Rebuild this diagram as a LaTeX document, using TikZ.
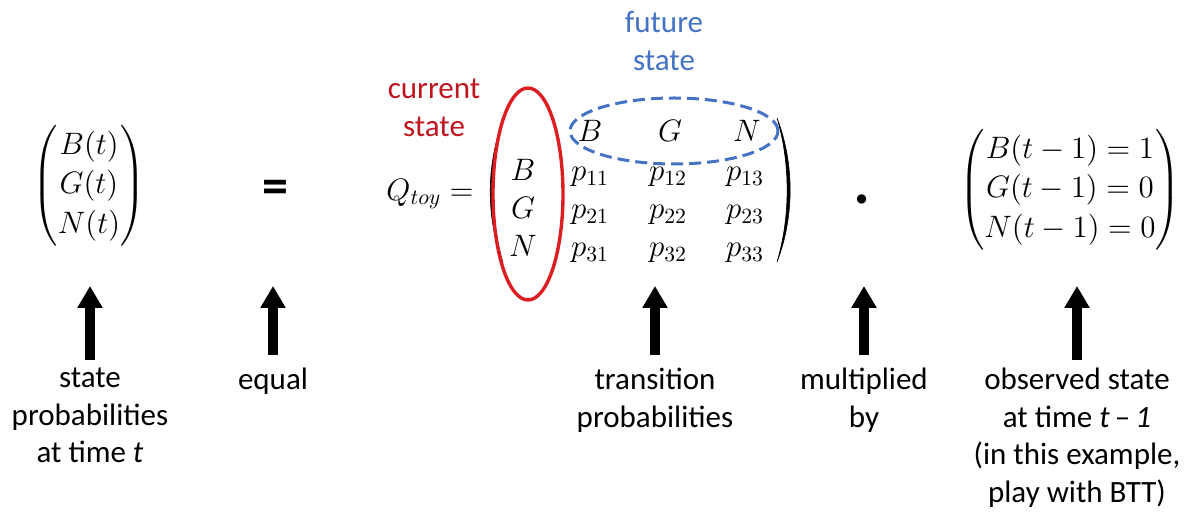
\RequirePackage{fix-cm}
\documentclass[tikz,border=0pt]{standalone}
\usepackage{amsmath}
\usepackage{fontspec}
\setmainfont{Carlito}
\usetikzlibrary{arrows.meta}
\definecolor{curred}{RGB}{192,20,30}
\definecolor{ellred}{RGB}{220,30,35}
\definecolor{futblue}{RGB}{68,114,196}
\begin{document}
\begin{tikzpicture}[x=0.5pt,y=-0.5pt,
  mth/.style={font=\fontsize{15.5}{17.4}\selectfont, inner sep=0pt},
  ent/.style={font=\fontsize{15.5}{17.4}\selectfont, inner sep=0pt, anchor=base},
  lbl/.style={font=\fontsize{15.5}{18.75}\selectfont, align=center, inner sep=0pt, anchor=north},
  ann/.style={font=\fontsize{15.5}{18.75}\selectfont, align=center, inner sep=0pt},
  uparrow/.style={line width=5pt, -{Triangle[width=12pt,length=11pt]}},
  paren/.style={fill=black, draw=black, line width=0.3pt},
]
\useasboundingbox (0,0) rectangle (1190,517);

% left vector
\node[mth] (lv) at (89,186) {$\renewcommand{\arraystretch}{1.13}\begin{pmatrix}B(t)\\G(t)\\N(t)\end{pmatrix}$};

% equals
\node[font=\bfseries\fontsize{26}{26}\selectfont, inner sep=0pt] (eq) at (275,192) {=};

% Q_toy
\node[mth] (q) at (430,194) {$Q_{toy} =$};

% matrix delimiters (drawn)
\path[paren] (503,121) .. controls (486,165) and (486,218) .. (503,263)
                       .. controls (490,218) and (490,165) .. (503,121) -- cycle;
\path[paren] (777,118) .. controls (794.5,163) and (794.5,217) .. (777,262)
                       .. controls (790.5,217) and (790.5,163) .. (777,118) -- cycle;

% header row
\node[ent] (hB) at (590,142) {$B$};
\node[ent] (hG) at (670,142) {$G$};
\node[ent] (hN) at (747,142) {$N$};
% row labels
\node[ent] (rB) at (523,181) {$B$};
\node[ent] (rG) at (523,219) {$G$};
\node[ent] (rN) at (523,257) {$N$};
% entries
\node[ent] (p11) at (590,181) {$p_{11}$};
\node[ent] (p12) at (668,181) {$p_{12}$};
\node[ent] (p13) at (745,181) {$p_{13}$};
\node[ent] (p21) at (590,219) {$p_{21}$};
\node[ent] (p22) at (668,219) {$p_{22}$};
\node[ent] (p23) at (745,219) {$p_{23}$};
\node[ent] (p31) at (590,257) {$p_{31}$};
\node[ent] (p32) at (668,257) {$p_{32}$};
\node[ent] (p33) at (745,257) {$p_{33}$};

% ellipses
\draw[ellred, line width=1.7pt] (528,194) ellipse [x radius=17.5pt, y radius=53pt];
\draw[futblue, line width=1.5pt, dash pattern=on 6pt off 3pt] (674,131) ellipse [x radius=52pt, y radius=16.5pt];

% annotations
\node[ann, text=curred] (cur) at (434,108) {current\\state};
\node[ann, text=futblue] (fut) at (664,41) {future\\state};

% dot
\node[font=\fontsize{30}{30}\selectfont, inner sep=0pt] (dot) at (862,200) {$\boldsymbol{\cdot}$};

% right vector
\node[mth] (rv) at (1070,190) {$\renewcommand{\arraystretch}{1.13}\begin{pmatrix}B(t-1)=1\\G(t-1)=0\\N(t-1)=0\end{pmatrix}$};

% arrows
\coordinate (t1) at (90,286);   \coordinate (b1) at (90,360);
\coordinate (t2) at (273,286);  \coordinate (b2) at (273,355);
\coordinate (t3) at (655,286);  \coordinate (b3) at (655,355);
\coordinate (t4) at (864,286);  \coordinate (b4) at (864,355);
\coordinate (t5) at (1077,286); \coordinate (b5) at (1077,360);
\draw[uparrow] (b1) -- (t1);
\draw[uparrow] (b2) -- (t2);
\draw[uparrow] (b3) -- (t3);
\draw[uparrow] (b4) -- (t4);
\draw[uparrow] (b5) -- (t5);

% labels
\node[lbl] (l1) at (90,368) {state\\probabilities\\at time \textit{t}};
\node[lbl] (l2) at (273,368) {equal};
\node[lbl] (l3) at (655,368) {transition\\probabilities};
\node[lbl] (l4) at (864,368) {multiplied\\by};
\node[lbl] (l5) at (1077,368) {observed state\\at time \textit{t}\,–\,\textit{1}\\(in this example,\\play with BTT)};
\end{tikzpicture}
\end{document}
